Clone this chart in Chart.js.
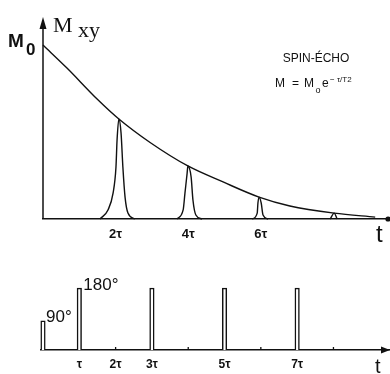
<!DOCTYPE html>
<html>
<head>
<meta charset="utf-8">
<script src="https://cdn.jsdelivr.net/npm/chart.js@4.4.1/dist/chart.umd.min.js"></script>
<style>
  html, body { margin: 0; padding: 0; background: #fff; overflow: hidden; }
  #wrap { position: relative; width: 390px; height: 374px; }
  canvas { position: absolute; left: 0; }
  #echoChart { top: 0; }
  #pulseChart { top: 252px; }
</style>
</head>
<body>
<div id="wrap">
  <canvas id="echoChart" width="390" height="252"></canvas>
  <canvas id="pulseChart" width="390" height="122"></canvas>
</div>
<script>
// time is in units of tau, signal is relative to M0
const decayT = [0, 0.66, 1.49, 2.09, 2.95, 3.99, 4.96, 5.95, 6.80, 8.02, 9.15];
const decayM = [1, 0.868, 0.69, 0.575, 0.44, 0.305, 0.213, 0.126, 0.075, 0.034, 0.011];

const echo1T = [1.57, 1.79, 1.93, 2.01, 2.04, 2.09, 2.15, 2.20, 2.26, 2.34, 2.53];
const echo1M = [0, 0.052, 0.149, 0.299, 0.454, 0.575, 0.494, 0.299, 0.126, 0.034, 0];
const echo2T = [3.69, 3.86, 3.91, 3.97, 3.99, 4.08, 4.13, 4.21, 4.38];
const echo2M = [0, 0.052, 0.149, 0.264, 0.305, 0.241, 0.109, 0.023, 0];
const echo3T = [5.76, 5.90, 5.92, 5.95, 6.01, 6.06, 6.20];
const echo3M = [0, 0.034, 0.092, 0.126, 0.092, 0.023, 0];
const echo4T = [7.91, 8.02, 8.10];
const echo4M = [0, 0.034, 0];

const echoTicks = [2, 4, 6];

// pulse sequence
const pulseT = [0, 1, 3, 5, 7];
const pulseH = [0.47, 1, 1, 1, 1];
const pulseNames = ['90°', '180°'];
const pulseTicks = [1, 2, 3, 5, 7];
const pulseMarks = [2, 4, 6, 8];

const ink = '#111';
const tauLabel = v => (v === 1 ? '' : v) + 'τ';
const pts = (xs, ys) => xs.map((t, i) => ({ x: t, y: ys[i] }));

const lineSet = (xs, ys) => ({
  data: pts(xs, ys),
  borderColor: ink,
  borderWidth: 1.4,
  pointRadius: 0,
  cubicInterpolationMode: 'monotone',
  clip: false
});

const echoAxes = {
  id: 'echoAxes',
  afterDraw(chart) {
    const { ctx, chartArea, scales: { x, y } } = chart;
    const x0 = x.getPixelForValue(0), y0 = y.getPixelForValue(0);
    ctx.save();
    ctx.strokeStyle = ink;
    ctx.fillStyle = ink;
    ctx.lineWidth = 1.5;
    ctx.beginPath();
    ctx.moveTo(x0, y0);
    ctx.lineTo(x0, 26);
    ctx.stroke();
    ctx.beginPath();
    ctx.moveTo(x0, 17);
    ctx.lineTo(x0 - 3.5, 29);
    ctx.lineTo(x0 + 3.5, 29);
    ctx.closePath();
    ctx.fill();
    ctx.beginPath();
    ctx.arc(chartArea.right - 1, y0, 2.6, 0, Math.PI * 2);
    ctx.fill();

    // axis names
    ctx.textBaseline = 'alphabetic';
    ctx.font = 'bold 19px "Liberation Sans"';
    ctx.fillText('M', 8, 47);
    ctx.font = 'bold 17px "Liberation Sans"';
    ctx.fillText('0', 26, 55);
    ctx.font = '22px "Liberation Serif"';
    ctx.fillText('M', 53, 32);
    ctx.fillText('xy', 78, 37);
    ctx.font = '24px "Liberation Sans"';
    ctx.fillText('t', 376, 242);

    // caption
    ctx.font = '12px "Liberation Sans"';
    ctx.textAlign = 'center';
    ctx.fillText('SPIN-ÉCHO', 316, 62);
    ctx.textAlign = 'left';
    ctx.fillText('M', 275, 87);
    ctx.fillText('=', 292, 87);
    ctx.fillText('M', 304, 87);
    ctx.fillText('e', 322, 87);
    ctx.font = '9px "Liberation Sans"';
    ctx.fillText('o', 315.5, 93);
    ctx.font = '8px "Liberation Sans"';
    ctx.fillText('− τ/T2', 330, 82);
    ctx.restore();
  }
};

new Chart(document.getElementById('echoChart'), {
  type: 'line',
  data: {
    datasets: [
      lineSet(decayT, decayM),
      lineSet(echo1T, echo1M),
      lineSet(echo2T, echo2M),
      lineSet(echo3T, echo3M),
      lineSet(echo4T, echo4M)
    ]
  },
  options: {
    responsive: false,
    animation: false,
    layout: { padding: { left: 43, right: 1, top: 19, bottom: 0 } },
    plugins: { legend: { display: false }, tooltip: { enabled: false } },
    scales: {
      x: {
        type: 'linear', min: 0, max: 9.53,
        afterBuildTicks: s => { s.ticks = echoTicks.map(v => ({ value: v })); },
        afterFit: s => { s.height = 33; },
        grid: { display: false, drawTicks: false },
        border: { display: true, color: ink, width: 1.5 },
        ticks: {
          color: ink, padding: 8, maxRotation: 0, autoSkip: false,
          font: { family: 'Liberation Sans', size: 13, weight: 'bold' },
          callback: tauLabel
        }
      },
      y: { min: 0, max: 1.15, display: false }
    }
  },
  plugins: [echoAxes]
});

const pulseAxes = {
  id: 'pulseAxes',
  afterDraw(chart) {
    const { ctx, chartArea, scales: { x, y } } = chart;
    const y0 = y.getPixelForValue(0);
    ctx.save();
    ctx.strokeStyle = ink;
    ctx.fillStyle = ink;
    ctx.lineWidth = 1.3;
    pulseMarks.forEach(v => {
      const px = x.getPixelForValue(v);
      ctx.beginPath();
      ctx.moveTo(px, y0);
      ctx.lineTo(px, y0 - 3);
      ctx.stroke();
    });
    ctx.beginPath();
    ctx.moveTo(chartArea.right + 1, y0);
    ctx.lineTo(chartArea.right - 8, y0 - 3.5);
    ctx.lineTo(chartArea.right - 8, y0 + 3.5);
    ctx.closePath();
    ctx.fill();

    ctx.font = '17px "Liberation Sans"';
    ctx.fillText(pulseNames[0], x.getPixelForValue(pulseT[0]) + 3, y.getPixelForValue(pulseH[0]) + 1);
    ctx.fillText(pulseNames[1], x.getPixelForValue(pulseT[1]) + 4, y.getPixelForValue(pulseH[1]) + 2);
    ctx.font = '20px "Liberation Sans"';
    ctx.fillText('t', 375, 121);
    ctx.restore();
  }
};

new Chart(document.getElementById('pulseChart'), {
  type: 'bar',
  data: {
    datasets: [{
      data: pts(pulseT, pulseH),
      backgroundColor: '#fff',
      borderColor: ink,
      borderWidth: 1.5,
      borderSkipped: 'bottom',
      barThickness: 4.5,
      clip: false
    }]
  },
  options: {
    responsive: false,
    animation: false,
    layout: { padding: { left: 40.46, right: 1, top: 28, bottom: 0 } },
    plugins: { legend: { display: false }, tooltip: { enabled: false } },
    scales: {
      x: {
        type: 'linear', min: -0.07, max: 9.53, offset: false,
        afterBuildTicks: s => { s.ticks = pulseTicks.map(v => ({ value: v })); },
        afterFit: s => { s.height = 24; },
        grid: { display: false, drawTicks: false, offset: false },
        border: { display: true, color: ink, width: 1.5 },
        ticks: {
          color: ink, padding: 7, maxRotation: 0, autoSkip: false,
          font: { family: 'Liberation Sans', size: 12, weight: 'bold' },
          callback: tauLabel
        }
      },
      y: { min: 0, max: 1.13, display: false }
    }
  },
  plugins: [pulseAxes]
});
</script>
</body>
</html>
